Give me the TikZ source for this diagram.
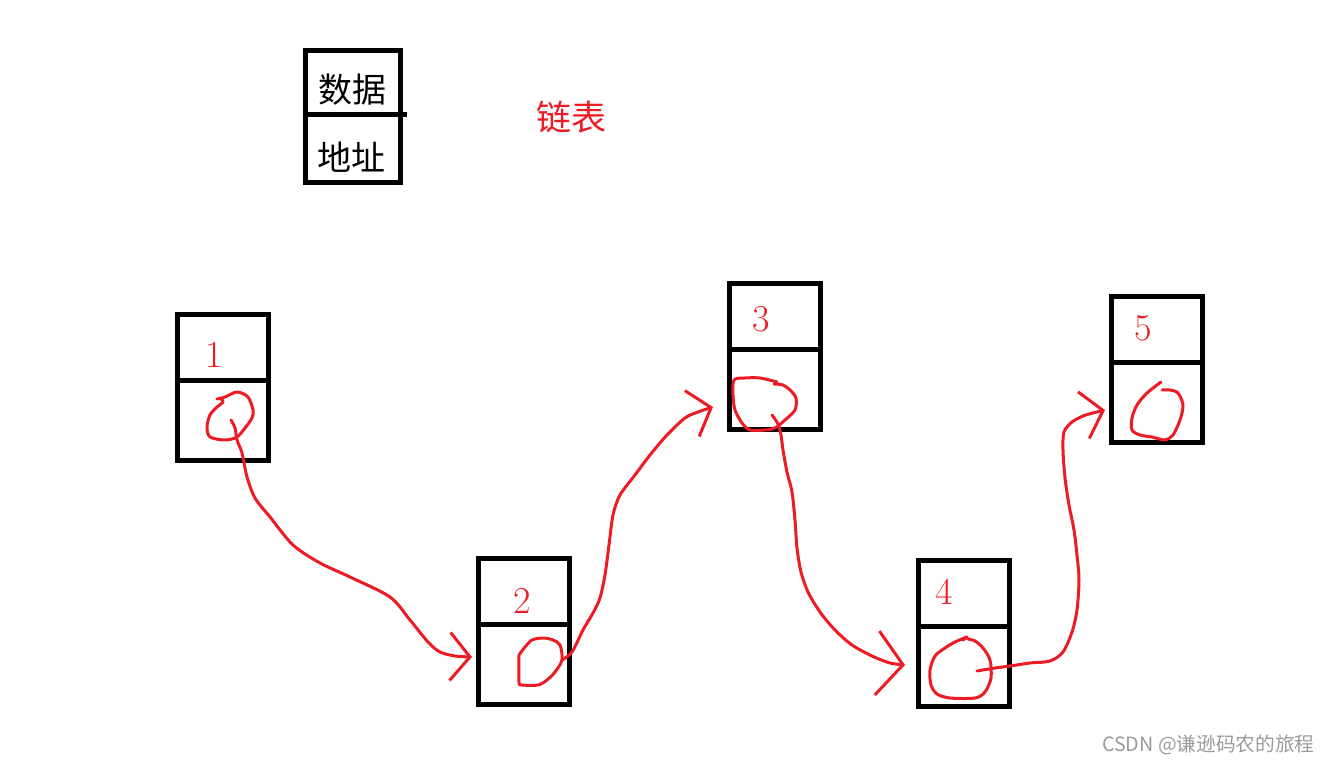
\documentclass[tikz,border=0pt]{standalone}
\usepackage{fontspec}
\usepackage{tikz}
\usetikzlibrary{arrows.meta, positioning}
\newfontfamily\cjk{Noto Sans CJK SC}
\definecolor{linkred}{RGB}{237,28,36}
\definecolor{markgray}{RGB}{155,155,155}
\tikzset{
    cell/.style={rectangle, draw=black, line width=2.5pt, minimum width=45.5pt, inner sep=0pt, outer sep=0pt},
    legendtext/.style={font=\cjk\fontsize{17}{20}\selectfont},
    num/.style={text=linkred, inner sep=0pt, font=\fontsize{19}{22}\selectfont},
    scribble/.style={draw=linkred, line width=1.5pt, line cap=round, line join=round},
    ptr/.style={scribble, -{Straight Barb[length=10pt,width=24pt]}}
}
\begin{document}
\begin{tikzpicture}[x=0.5pt, y=-0.5pt]
    \useasboundingbox (0,0) rectangle (1330,764);
    % Legend: one cell of the list
    \node (lg1) [cell, minimum height=32.25pt, minimum width=47.5pt, anchor=north] at (353,50.5) {};
    \node (lg2) [cell, minimum height=33.75pt, minimum width=47.5pt, below=0pt of lg1] {};
    \draw [line width=2.5pt] (lg1.south east) -- ++(6,0);
    \node (data) [legendtext] at (352,90) {数据};
    \node (addr) [legendtext] at (351,157) {地址};
    \node (title) [legendtext, text=linkred, font=\cjk\fontsize{17.5}{20}\selectfont] at (571,117) {链表};

    % List cells
    \foreach \i/\x/\y/\lx/\ly in {1/223/314.5/214.5/354.5, 2/523.5/558.5/522/601, 3/774.5/283.5/761/319.5, 4/963.5/560.5/944/592, 5/1156.5/296.5/1143/328}{
        \node (d\i) [cell, minimum height=33pt, anchor=north] at (\x,\y) {};
        \node (p\i) [cell, minimum height=40pt, below=0pt of d\i] {};
        \node (l\i) [num] at (\lx,\ly) {\i};
    }

    % Scribbled address loops
    \coordinate (c1) at (231,420);
    \coordinate (c2) at (562,660);
    \coordinate (c3) at (772,415);
    \coordinate (c4) at (977,671);
    \draw [scribble] plot [smooth] coordinates {(217,399) (225,397) (237,392) (248,397) (253,410) (252,418) (245,428) (237,437) (225,440) (210,437) (207,427) (210,415) (217,407) (223,402) (220,398)};
    \draw [scribble] plot [smooth] coordinates {(519,655) (519,682) (522,685) (538,685) (547,680) (555,672) (c2) (560,645) (553,640) (543,638) (532,640) (525,647) (519,655)};
    \draw [scribble] plot [smooth] coordinates {(777,382) (760,378) (745,378) (734,380) (733,395) (735,410) (742,423) (750,430) (765,430) (775,428) (785,420) (795,410) (796,398) (790,390) (783,385) (774,384)};
    \draw [scribble] plot [smooth] coordinates {(963,640) (967,637) (955,642) (945,648) (935,656) (930,670) (931,685) (937,694) (950,698) (975,698) (985,692) (991,678) (990,660) (983,648) (975,641) (968,639)};
    \draw [scribble] plot [smooth] coordinates {(1161,382) (1147,393) (1137,405) (1132,418) (1132,430) (1140,435) (1152,437) (1165,440) (1173,435) (1180,420) (1183,405) (1178,393) (1170,390) (1162,390)};

    % Pointers
    \draw [ptr] plot [smooth] coordinates {(c1) (235,428) (237,440) (242,453) (247,477) (255,498) (270,517) (293,545) (320,563) (350,577) (390,597) (410,620) (428,642) (440,652) (455,656) ([xshift=-3pt,yshift=3.75pt]p2.west)};
    \draw [ptr] plot [smooth] coordinates {(c2) (572,652) (583,630) (593,613) (600,598) (605,575) (609,545) (613,515) (620,495) (635,475) (650,455) (667,435) (685,418) (698,412) ([xshift=-8pt,yshift=-8.75pt]p3.west)};
    \draw [ptr, -{Straight Barb[length=13pt,width=32pt]}] plot [smooth] coordinates {(c3) (778,424) (781,435) (783,450) (787,472) (792,492) (795,520) (797,548) (801,572) (808,592) (820,612) (835,630) (852,645) (872,656) (890,663) ([xshift=-6.5pt,yshift=0.75pt]p4.west)};
    \draw [ptr] plot [smooth] coordinates {(c4) (995,668) (1010,666) (1030,663) (1050,661) (1063,652) (1072,632) (1077,610) (1079,580) (1077,555) (1074,530) (1069,505) (1065,478) (1063,450) (1064,432) (1072,422) (1083,416) (1093,413) ([xshift=-3pt,yshift=-3.75pt]p5.west)};

    % Watermark
    \node (mark) [anchor=east, inner sep=0pt, text=markgray, font=\cjk\fontsize{9.85}{11}\selectfont] at (1315,745) {CSDN @谦逊码农的旅程};
\end{tikzpicture}
\end{document}
